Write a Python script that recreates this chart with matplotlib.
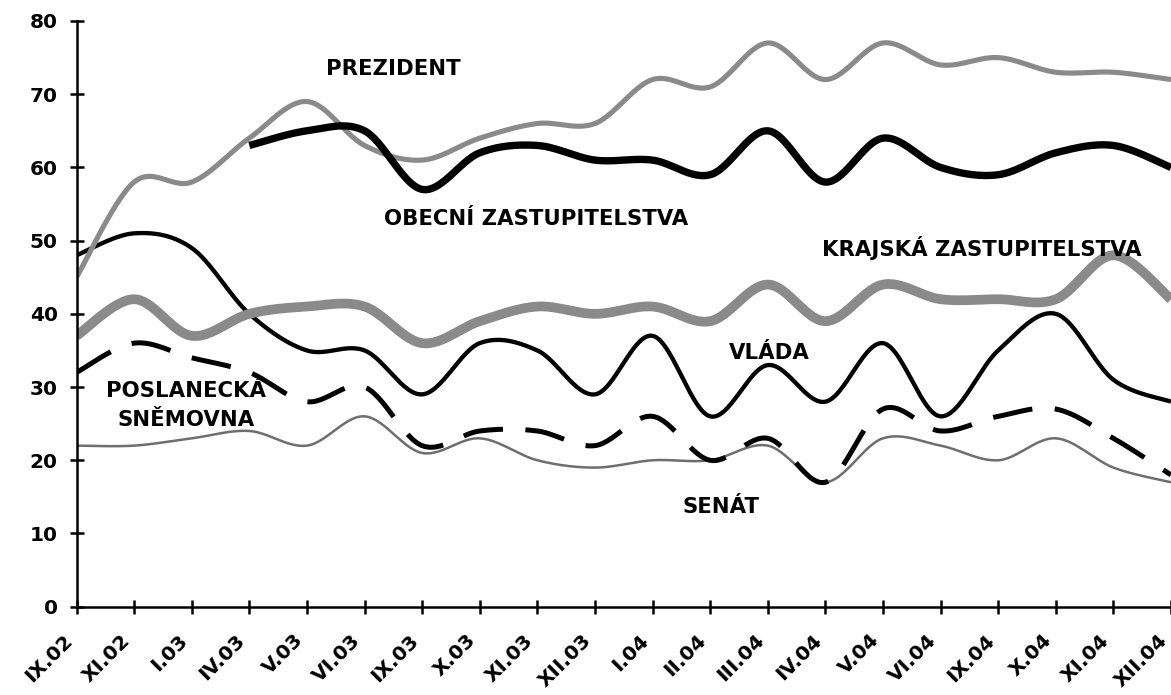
import numpy as np
import matplotlib
matplotlib.use("Agg")
import matplotlib.pyplot as plt
from matplotlib.transforms import ScaledTranslation

categories = ["IX.02", "XI.02", "I.03", "IV.03", "V.03", "VI.03", "IX.03", "X.03",
              "XI.03", "XII.03", "I.04", "II.04", "III.04", "IV.04", "V.04", "VI.04",
              "IX.04", "X.04", "XI.04", "XII.04"]

prezident = [45, 58, 58, 64, 69, 63, 61, 64, 66, 66, 72, 71, 77, 72, 77, 74, 75, 73, 73, 72]
obecni = [None, None, None, 63, 65, 65, 57, 62, 63, 61, 61, 59, 65, 58, 64, 60, 59, 62, 63, 60]
krajska = [37, 42, 37, 40, 41, 41, 36, 39, 41, 40, 41, 39, 44, 39, 44, 42, 42, 42, 48, 42]
vlada = [48, 51, 49, 40, 35, 35, 29, 36, 35, 29, 37, 26, 33, 28, 36, 26, 35, 40, 31, 28]
poslanecka = [32, 36, 34, 32, 28, 30, 22, 24, 24, 22, 26, 20, 23, 17, 27, 24, 26, 27, 23, 18]
senat = [22, 22, 23, 24, 22, 26, 21, 23, 20, 19, 20, 20, 22, 17, 23, 22, 20, 23, 19, 17]

y_ticks = [0, 10, 20, 30, 40, 50, 60, 70, 80]


def smooth(xs, ys, n=30):
    xs = np.asarray(xs, float)
    ys = np.asarray(ys, float)
    px = np.concatenate([[xs[0]], xs, [xs[-1]]])
    py = np.concatenate([[ys[0]], ys, [ys[-1]]])
    outx, outy = [], []
    t = np.linspace(0, 1, n)
    for i in range(1, len(px) - 2):
        p0x, p1x, p2x, p3x = px[i - 1], px[i], px[i + 1], px[i + 2]
        p0y, p1y, p2y, p3y = py[i - 1], py[i], py[i + 1], py[i + 2]
        c1x = p1x + (p2x - p0x) / 6
        c1y = p1y + (p2y - p0y) / 6
        c2x = p2x - (p3x - p1x) / 6
        c2y = p2y - (p3y - p1y) / 6
        bx = (1 - t) ** 3 * p1x + 3 * (1 - t) ** 2 * t * c1x + 3 * (1 - t) * t ** 2 * c2x + t ** 3 * p2x
        by = (1 - t) ** 3 * p1y + 3 * (1 - t) ** 2 * t * c1y + 3 * (1 - t) * t ** 2 * c2y + t ** 3 * p2y
        outx.extend(bx if i == 1 else bx[1:])
        outy.extend(by if i == 1 else by[1:])
    return np.array(outx), np.array(outy)


W, H = 1171, 695
fig = plt.figure(figsize=(W / 100, H / 100), dpi=100)
x0, x1 = 76.5, 1171
ybot, ytop = 606.7, 21
ax = fig.add_axes([x0 / W, (H - ybot) / H, (x1 - x0) / W, (ybot - ytop) / H])

step = 57.9
ax.set_xlim(0, (x1 - x0) / step)
ax.set_ylim(0, 80)

idx = np.arange(len(categories))


def draw(vals, **kw):
    xs = [i for i, v in zip(idx, vals) if v is not None]
    ys = [v for v in vals if v is not None]
    sx, sy = smooth(xs, ys)
    ax.plot(sx, sy, solid_capstyle="butt", dash_capstyle="butt", clip_on=True, **kw)


draw(senat, color="#6e6e6e", lw=1.8)
draw(poslanecka, color="black", lw=3.6, linestyle=(0, (8, 4.5)))
draw(vlada, color="black", lw=3.1)
draw(krajska, color="#8a8a8a", lw=7.0)
draw(prezident, color="#8a8a8a", lw=3.7)
draw(obecni, color="black", lw=5.3)

for s in ["top", "right"]:
    ax.spines[s].set_visible(False)
for s in ["left", "bottom"]:
    ax.spines[s].set_linewidth(1.8)

ax.set_yticks(y_ticks)
ax.set_yticklabels([str(v) for v in y_ticks], fontsize=14.5, fontweight="bold")
ax.set_xticks(idx)
ax.set_xticklabels(categories, fontsize=14.5, fontweight="bold", rotation=45,
                   ha="right", va="center", rotation_mode="anchor")
ax.tick_params(axis="both", direction="inout", length=10, width=1.8)
ax.tick_params(axis="y", pad=8.5)
ax.tick_params(axis="x", pad=17)
shift = ScaledTranslation(-7 / 100, 0, fig.dpi_scale_trans)
for lab in ax.get_xticklabels():
    lab.set_transform(lab.get_transform() + shift)


def label(txt, px, py, ha="center"):
    fx, fy = px / W, 1 - py / H
    fig.text(fx, fy, txt, fontsize=15.3, fontweight="bold", ha=ha, va="center")


label("PREZIDENT", 393, 69)
label("OBECNÍ ZASTUPITELSTVA", 536, 219)
label("KRAJSKÁ ZASTUPITELSTVA", 982, 248)
label("VLÁDA", 769, 353)
label("POSLANECKÁ", 186, 391)
label("SNĚMOVNA", 186, 420)
label("SENÁT", 721, 507)

fig.savefig("out.png", dpi=100)
